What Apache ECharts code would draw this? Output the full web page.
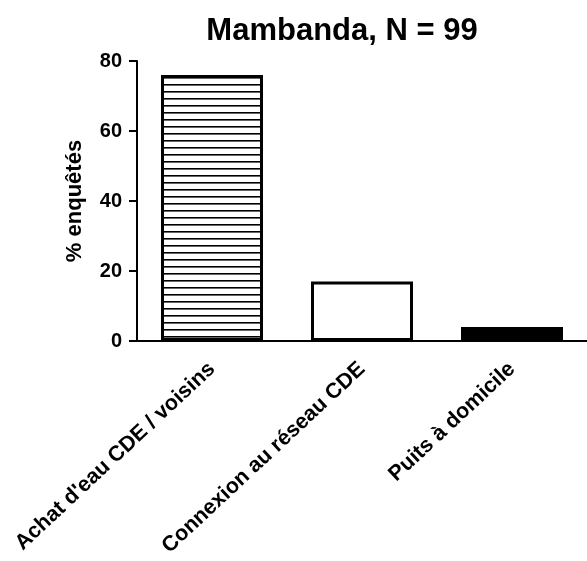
<!DOCTYPE html>
<html><head><meta charset="utf-8">
<script src="https://cdn.jsdelivr.net/npm/echarts@6/dist/echarts.min.js"></script>
<style>html,body{margin:0;padding:0;background:#fff}#c{width:587px;height:561px}</style>
</head><body><div id="c"></div>
<script>
const categories = ["Achat d'eau CDE / voisins", "Connexion au réseau CDE", "Puits à domicile"];
const values = [76, 17, 4];
const yTicks = [0, 20, 40, 60, 80];

const pc = document.createElement('canvas');
pc.width = 8; pc.height = 7;
const ctx = pc.getContext('2d');
ctx.fillStyle = '#fff'; ctx.fillRect(0, 0, 8, 7);
ctx.fillStyle = '#000'; ctx.fillRect(0, 0, 8, 1.6);

const styles = [
  {color: {image: pc, repeat: 'repeat'}, borderColor: '#000', borderWidth: 3},
  {color: '#fff', borderColor: '#000', borderWidth: 3},
  {color: '#000', borderColor: '#000', borderWidth: 3}
];

const FONT = 'Liberation Sans, Arial, sans-serif';
const chart = echarts.init(document.getElementById('c'), null, {renderer: 'canvas'});
chart.setOption({
  animation: false,
  title: {text: 'Mambanda, N = 99', left: 337, top: 11, textAlign: 'center',
    textStyle: {fontFamily: FONT, fontWeight: 'bold', fontSize: 31, color: '#000'}},
  grid: {left: 137, top: 61, right: 0, bottom: 220},
  xAxis: {type: 'category', data: categories,
    axisLine: {lineStyle: {color: '#000', width: 2}},
    axisTick: {alignWithLabel: true, length: 9, lineStyle: {color: '#000', width: 2}},
    axisLabel: {rotate: 43, interval: 0, margin: 25, color: '#000', fontFamily: FONT, fontWeight: 'bold', fontSize: 21.5}},
  yAxis: {type: 'value', min: 0, max: 80, interval: 20,
    name: '% enquêtés', nameLocation: 'middle', nameGap: 51,
    nameTextStyle: {color: '#000', fontFamily: FONT, fontWeight: 'bold', fontSize: 22},
    splitLine: {show: false},
    axisLine: {show: true, lineStyle: {color: '#000', width: 2}},
    axisTick: {show: true, length: 8, lineStyle: {color: '#000', width: 2}},
    axisLabel: {color: '#000', fontFamily: FONT, fontWeight: 'bold', fontSize: 20, margin: 15,
      formatter: v => yTicks.includes(v) ? String(v) : ''}},
  series: [{type: 'bar', barWidth: '68%',
    data: values.map((v, i) => ({value: v, itemStyle: styles[i]}))}]
});
</script></body></html>
